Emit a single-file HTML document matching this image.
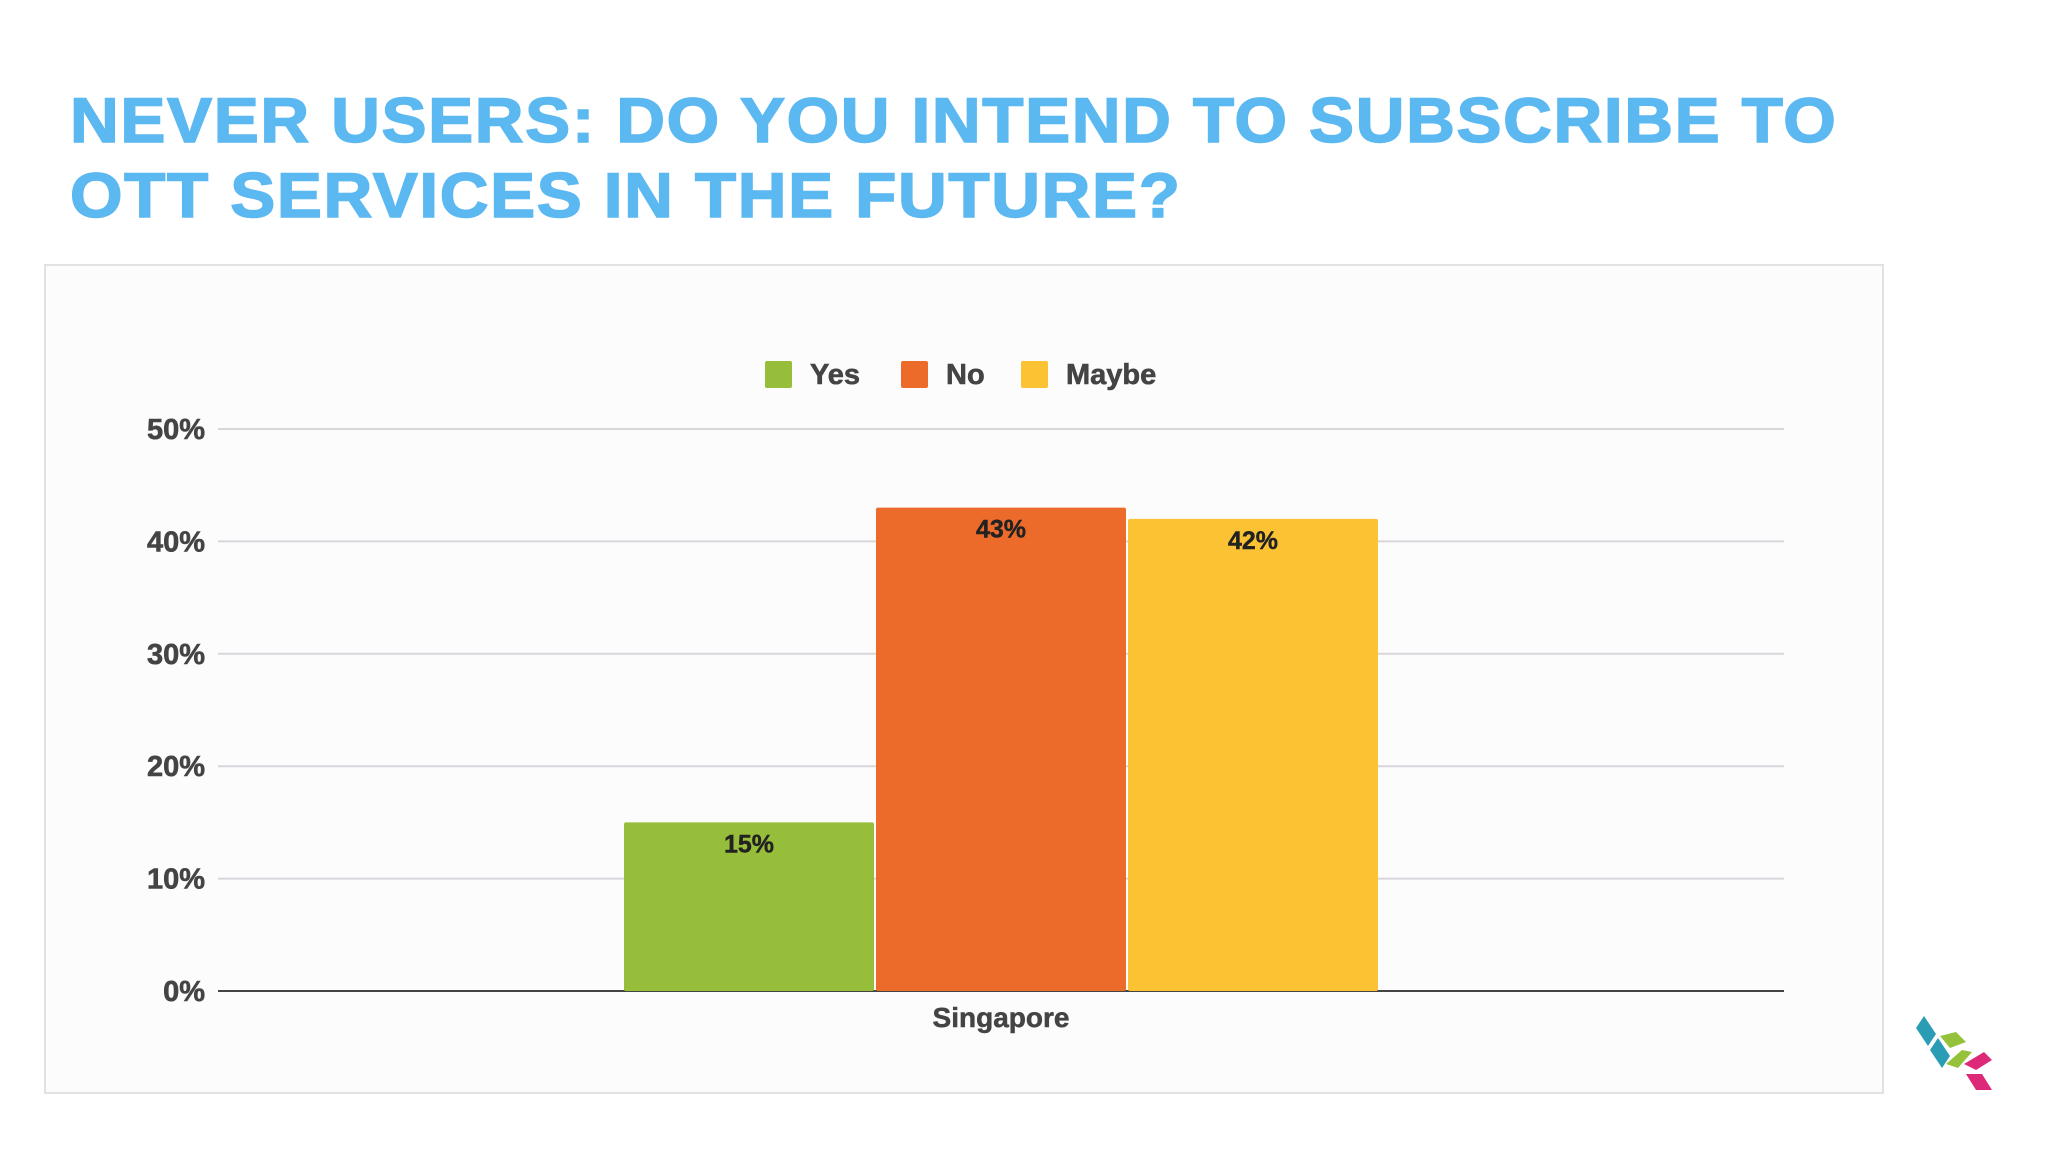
<!DOCTYPE html>
<html><head><meta charset="utf-8"><style>
html,body{margin:0;padding:0;background:#fff;}
body{width:2048px;height:1152px;position:relative;overflow:hidden;font-family:"Liberation Sans",sans-serif;}
#title{position:absolute;left:70px;top:84px;margin:0;font-size:63px;line-height:75px;font-weight:bold;color:#5bb8f0;letter-spacing:1.5px;transform:scaleX(1.072);transform-origin:0 0;white-space:nowrap;-webkit-text-stroke:1.5px #5bb8f0;}
#frame{position:absolute;left:44px;top:264px;width:1836px;height:826px;border:2px solid #e2e2e2;background:#fdfcfd;}
svg{position:absolute;left:0;top:0;}
</style></head><body>
<h1 id="title">NEVER USERS: DO YOU INTEND TO SUBSCRIBE TO<br>OTT SERVICES IN THE FUTURE?</h1>
<div id="frame"></div>
<svg id="chart" width="2048" height="1152"></svg>
<svg width="2048" height="1152" style="pointer-events:none">
<polygon points="1916,1028 1924,1016 1936,1034 1928,1046" fill="#2a9db5"/>
<polygon points="1930,1050 1938,1038 1950,1056 1942,1068" fill="#2a9db5"/>
<polygon points="1940,1036 1956,1032 1966,1042 1950,1048" fill="#96c13a"/>
<polygon points="1946,1064 1962,1050 1972,1052 1958,1068" fill="#96c13a"/>
<polygon points="1964,1064 1984,1052 1992,1060 1976,1070" fill="#dd2a78"/>
<polygon points="1966,1074 1982,1074 1992,1090 1976,1090" fill="#dd2a78"/>
</svg>
<script>
const categories=["Singapore"];
const seriesNames=["Yes","No","Maybe"];
const seriesColors=["#97be3b","#ed6b2a","#fbc334"];
const yesValues=[15];
const noValues=[43];
const maybeValues=[42];
const yTicks=[0,10,20,30,40,50];
const tickLabels=["0%","10%","20%","30%","40%","50%"];
const NS="http://www.w3.org/2000/svg";
const svg=document.getElementById('chart');
const plot={l:218,r:1784,t:429,b:991};
const yMax=50;
function y(v){return plot.b-(v/yMax)*(plot.b-plot.t);}
function mk(t,a){const e=document.createElementNS(NS,t);for(const k in a)e.setAttribute(k,a[k]);svg.appendChild(e);return e;}
yTicks.forEach((v,i)=>{
  const g=mk('line',{x1:plot.l,x2:plot.r,y1:y(v),y2:y(v),stroke:v===0?'#444':'#d9d6db','stroke-width':2});
  
  
  const t=mk('text',{x:205,y:y(v)+10,'text-anchor':'end','font-size':29,'font-weight':'bold',fill:'#444',stroke:'#444','stroke-width':0.6});
  t.textContent=tickLabels[i];
  
  
});
const series=[yesValues,noValues,maybeValues];
const catW=(plot.r-plot.l)/categories.length;
const barW=250,gap=2;
categories.forEach((c,ci)=>{
  const cx=plot.l+catW*(ci+0.5);
  const startX=cx-(barW*3+gap*2)/2;
  series.forEach((vals,si)=>{
    const x=startX+si*(barW+gap);
    const r=mk('rect',{x:x,y:y(vals[ci]),width:barW,height:plot.b-y(vals[ci]),fill:seriesColors[si],rx:2});
    
    
    const t=mk('text',{x:x+barW/2,y:y(vals[ci])+30,'text-anchor':'middle','font-size':25,'font-weight':'bold',fill:'#222',stroke:'#222','stroke-width':0.4});
    t.textContent=vals[ci]+'%';
    
    
  });
  const l=mk('text',{x:cx,y:1027,'text-anchor':'middle','font-size':28,'font-weight':'bold',fill:'#444',stroke:'#444','stroke-width':0.5});
  l.textContent=c;
  
  
});
const legX=[765,901,1021];
seriesNames.forEach((n,i)=>{
  const r=mk('rect',{x:legX[i],y:361,width:27,height:27,fill:seriesColors[i],rx:2});
  
  
  const t=mk('text',{x:legX[i]+45,y:384,'font-size':29,'font-weight':'bold',fill:'#444',stroke:'#444','stroke-width':0.6});
  t.textContent=n;
  
  
});
</script>
</body></html>
